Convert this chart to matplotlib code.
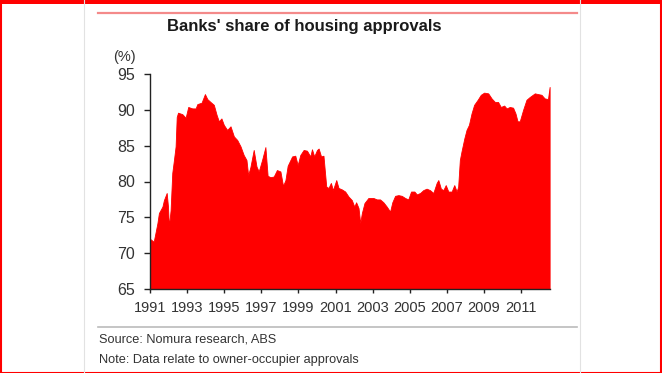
import matplotlib
matplotlib.use("Agg")
import matplotlib.pyplot as plt
from matplotlib.lines import Line2D
from matplotlib.patches import Rectangle

plt.rcParams['font.family'] = ['Liberation Sans', 'DejaVu Sans']

# Decimal years and banks' share (%)
years = [1991.00, 1991.20, 1991.40, 1991.48, 1991.67, 1991.75, 1991.90, 1991.97,
         1992.02, 1992.11, 1992.20, 1992.29, 1992.38, 1992.44, 1992.51, 1992.74,
         1992.92, 1993.06, 1993.28, 1993.46, 1993.55, 1993.78, 1993.96, 1994.09,
         1994.26, 1994.44, 1994.59, 1994.71, 1994.85, 1994.98, 1995.16, 1995.34,
         1995.52, 1995.70, 1995.88, 1996.05, 1996.20, 1996.29, 1996.41, 1996.59,
         1996.74, 1996.86, 1997.04, 1997.22, 1997.34, 1997.49, 1997.67, 1997.84,
         1998.03, 1998.17, 1998.30, 1998.42, 1998.66, 1998.83, 1998.96, 1999.10,
         1999.28, 1999.46, 1999.64, 1999.73, 1999.85, 2000.00, 2000.09, 2000.22,
         2000.35, 2000.50, 2000.62, 2000.75, 2000.86, 2001.04, 2001.16, 2001.34,
         2001.52, 2001.70, 2001.88, 2002.01, 2002.11, 2002.24, 2002.33, 2002.42,
         2002.56, 2002.77, 2003.04, 2003.23, 2003.40, 2003.58, 2003.76, 2003.94,
         2004.06, 2004.21, 2004.39, 2004.57, 2004.75, 2004.92, 2005.07, 2005.25,
         2005.38, 2005.56, 2005.73, 2005.91, 2006.09, 2006.27, 2006.45, 2006.54,
         2006.68, 2006.81, 2006.94, 2007.08, 2007.26, 2007.40, 2007.53, 2007.61,
         2007.70, 2007.79, 2007.94, 2008.06, 2008.19, 2008.33, 2008.47, 2008.66,
         2008.83, 2009.01, 2009.23, 2009.41, 2009.59, 2009.76, 2009.91, 2010.09,
         2010.22, 2010.39, 2010.57, 2010.70, 2010.81, 2010.93, 2011.11, 2011.29,
         2011.47, 2011.74, 2011.91, 2012.10, 2012.27, 2012.45, 2012.54]
share = [72.0, 71.6, 74.2, 75.6, 76.5, 77.4, 78.4, 76.5,
         73.7, 76.0, 81.2, 83.0, 84.9, 89.0, 89.6, 89.4,
         88.9, 90.4, 90.2, 90.2, 90.8, 91.0, 92.2, 91.5,
         91.1, 90.7, 89.3, 88.4, 88.8, 87.9, 87.2, 87.7,
         86.3, 85.8, 84.9, 83.7, 83.0, 80.9, 82.0, 84.4,
         82.1, 81.4, 83.0, 84.8, 80.8, 80.6, 80.7, 81.6,
         81.4, 79.4, 80.2, 82.2, 83.5, 83.6, 82.3, 83.7,
         84.4, 84.3, 83.5, 84.5, 83.5, 84.4, 84.6, 83.5,
         83.6, 79.3, 79.1, 79.8, 78.8, 80.2, 79.1, 78.9,
         78.6, 77.9, 77.4, 76.5, 77.1, 76.3, 74.2, 75.6,
         77.0, 77.7, 77.7, 77.5, 77.5, 77.1, 76.5, 75.8,
         77.1, 78.0, 78.1, 78.0, 77.7, 77.5, 78.6, 78.6,
         78.2, 78.4, 78.8, 79.0, 78.8, 78.4, 79.8, 80.2,
         79.0, 78.8, 79.5, 78.6, 78.6, 79.5, 78.6, 79.3,
         83.0, 84.2, 86.0, 87.2, 87.9, 89.5, 90.7, 91.4,
         92.1, 92.4, 92.3, 91.6, 91.1, 91.1, 90.4, 90.6,
         90.2, 90.4, 90.3, 89.5, 88.4, 88.4, 90.0, 91.4,
         91.8, 92.3, 92.2, 92.1, 91.6, 91.5, 93.2]

x_ticks = [1991, 1993, 1995, 1997, 1999, 2001, 2003, 2005, 2007, 2009, 2011]
y_ticks = [65, 70, 75, 80, 85, 90, 95]

W, H = 662, 373
fig = plt.figure(figsize=(W / 100, H / 100), dpi=100)
fig.patch.set_facecolor('white')

ax = fig.add_axes([150 / W, 1 - 289 / H, 400 / W, 215 / H])
ax.fill_between(years, 65, share, color='#ff0000', linewidth=0.6, edgecolor='#ff0000')
ax.set_xlim(1991, 2012.56)
ax.set_ylim(65, 95)
ax.set_xticks(x_ticks)
ax.set_yticks(y_ticks)
for s in ['top', 'right']:
    ax.spines[s].set_visible(False)
for s in ['left', 'bottom']:
    ax.spines[s].set_color('#222222')
    ax.spines[s].set_linewidth(1.0)
ax.tick_params(axis='y', direction='out', length=4, width=1, color='#222222',
               labelsize=11.5, labelcolor='#333333', pad=7)
ax.tick_params(axis='x', direction='out', length=3, width=1, color='#222222',
               labelsize=10.5, labelcolor='#333333', pad=6)
ax.set_facecolor('none')

# Title and unit label
fig.text(167 / W, 1 - 27 / H, "Banks' share of housing approvals", fontsize=12,
         fontweight='bold', color='#1a1a1a', ha='left', va='center')
fig.text(113 / W, 1 - 57 / H, "(%)", fontsize=10.5, color='#333333', ha='left', va='center')

# Source / note
fig.text(99 / W, 1 - 340 / H, "Source: Nomura research, ABS", fontsize=9.2,
         color='#333333', ha='left', va='center')
fig.text(99 / W, 1 - 360 / H, "Note: Data relate to owner-occupier approvals", fontsize=9.2,
         color='#333333', ha='left', va='center')

# Decorative lines
fig.add_artist(Line2D([98 / W, 577 / W], [1 - 13 / H, 1 - 13 / H], color='#f48a8a', lw=1.6))
fig.add_artist(Line2D([98 / W, 577 / W], [1 - 327 / H, 1 - 327 / H], color='#bbbbbb', lw=1.2))
fig.add_artist(Line2D([84 / W, 84 / W], [0, 1], color='#e2e2e2', lw=0.8))
fig.add_artist(Line2D([580 / W, 580 / W], [0, 1], color='#e2e2e2', lw=0.8))

# Red frame
fig.add_artist(Rectangle((0.5 / W, 0.5 / H), 1 - 1.5 / W, 1 - 1.5 / H, transform=fig.transFigure,
                         fill=False, edgecolor='#ff0000', lw=1.5))
fig.add_artist(Rectangle((0, 1 - 4 / H), 1, 4 / H, transform=fig.transFigure,
                         facecolor='#ff0000', edgecolor='none'))

fig.savefig('out.png', dpi=100)
